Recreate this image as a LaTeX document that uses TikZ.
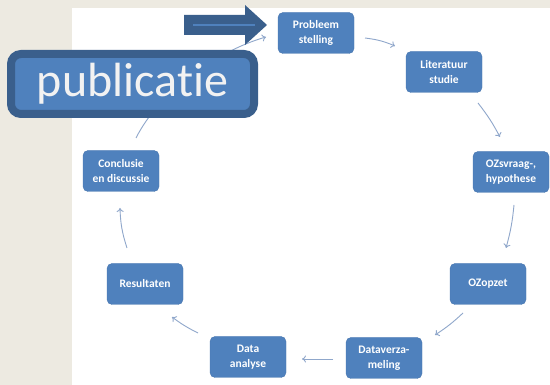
\documentclass[tikz,border=0pt]{standalone}
\usepackage{fontspec}
\setmainfont{Carlito}[Ligatures=NoCommon]
\usetikzlibrary{arrows.meta,shapes.arrows}
\definecolor{bgbeige}{HTML}{EDEAE1}
\definecolor{boxblue}{HTML}{4F81BD}
\definecolor{boxedge}{HTML}{4A78B0}
\definecolor{darkblue}{HTML}{3A5F8C}
\definecolor{conn}{HTML}{8FA7CB}
\definecolor{pubtext}{HTML}{F2F2F2}
\tikzset{
  stepbox/.style={draw=boxedge, fill=boxblue, rounded corners=5pt, minimum width=76pt, minimum height=41pt,
    text=white, font=\fontsize{11.5}{15.5}\selectfont\bfseries, align=center, inner sep=1pt},
  conn/.style={draw=conn, line width=0.9pt, -{To[length=4pt,width=7pt]}},
}
\begin{document}
\begin{tikzpicture}[x=1pt,y=-1pt]
\fill[bgbeige] (0,0) rectangle (550,385);
\fill[white] (72,8) rectangle (550,385);
\useasboundingbox (0,0) rectangle (550,385);

\node[stepbox] (prob) at (316,33) {Probleem\\stelling};
\node[stepbox] (lit) at (444,72) {Literatuur\\studie};
\node[stepbox] (ozv) at (511,172) {OZsvraag-,\\hypothese};
\node[stepbox] (ozo) at (488,284) {OZopzet};
\node[stepbox] (dv) at (384,358) {Dataverza-\\meling};
\node[stepbox] (da) at (248,357) {Data\\analyse};
\node[stepbox] (res) at (145,284) {Resultaten};
\node[stepbox] (con) at (121,171) {Conclusie\\en discussie};

\coordinate (c1s) at (365,38); \coordinate (c1e) at (395,46);
\draw[conn] (c1s) to[bend left=8] (c1e);
\coordinate (c2s) at (478,103); \coordinate (c2e) at (500,137);
\draw[conn] (c2s) to[bend left=5] (c2e);
\coordinate (c3s) at (514,205); \coordinate (c3e) at (506,248);
\draw[conn] (c3s) to[bend left=5] (c3e);
\coordinate (c4s) at (463,313); \coordinate (c4e) at (435,335);
\draw[conn] (c4s) to[bend left=5] (c4e);
\coordinate (c5s) at (333,359); \coordinate (c5e) at (302,359);
\draw[conn] (c5s) -- (c5e);
\coordinate (c6s) at (198,333); \coordinate (c6e) at (172,317);
\draw[conn] (c6s) to[bend left=5] (c6e);
\coordinate (c7s) at (127,248); \coordinate (c7e) at (120,208);
\draw[conn] (c7s) to[bend left=8] (c7e);
\coordinate (c8s) at (136,138); \coordinate (c8e) at (266,37);
\draw[conn] (c8s) .. controls (160,90) and (220,50) .. (c8e);

% publicatie box
\node[draw=darkblue, line width=8pt, fill=boxblue, rounded corners=10pt,
  minimum width=243pt, minimum height=60pt, text=pubtext,
  font=\fontsize{48}{48}\selectfont, inner sep=0pt] (pub) at (132.5,84) {publicatie};

% big arrow
\fill[darkblue] (184,15) -- (245,15) -- (245,5) -- (267,25) -- (245,45) -- (245,35) -- (184,35) -- cycle;
\coordinate (al1) at (193,25); \coordinate (al2) at (255,25);
\draw[boxblue, line width=1.6pt] (al1) -- (al2);
\end{tikzpicture}
\end{document}
